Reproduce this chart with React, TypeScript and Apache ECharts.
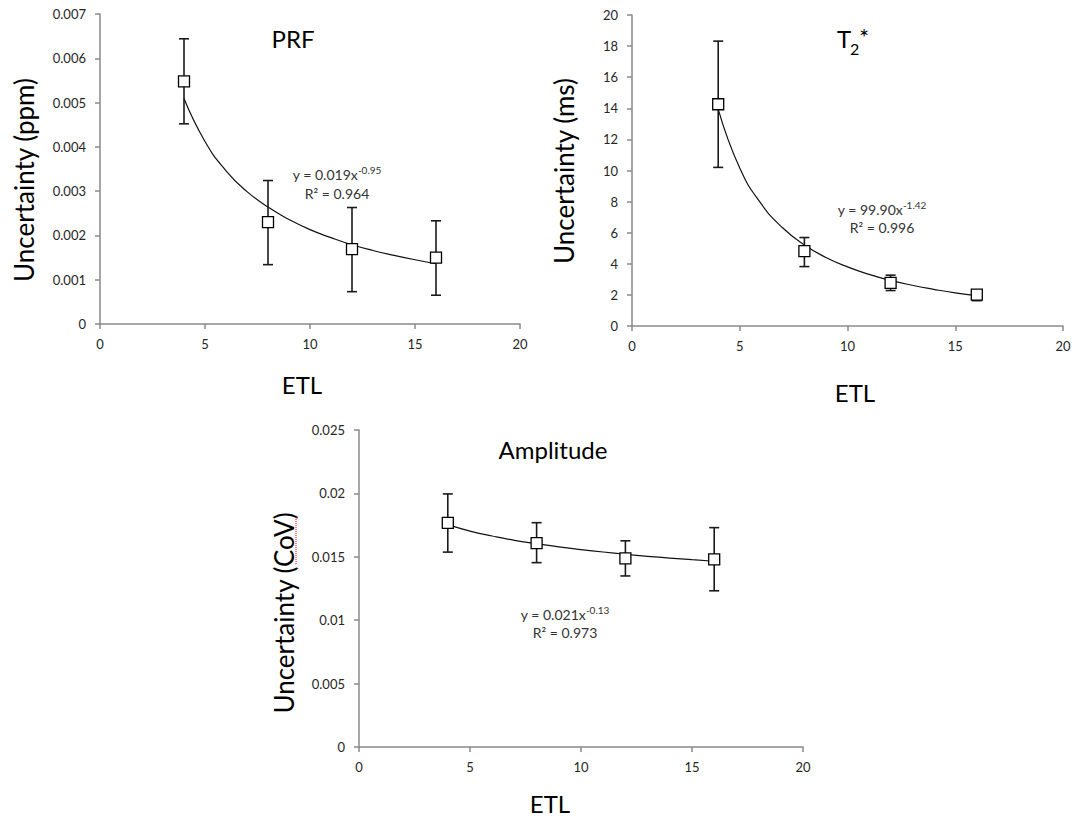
import React, { useEffect, useRef } from "react";
import * as echarts from "echarts";

// ---- data ----
const etl = [4, 8, 12, 16];

const prfMean = [0.00548, 0.0023, 0.00169, 0.0015];
const prfLow = [0.00452, 0.00134, 0.00073, 0.00065];
const prfHigh = [0.00644, 0.00324, 0.00263, 0.00233];

const t2Mean = [14.26, 4.81, 2.77, 2.02];
const t2Low = [10.2, 3.82, 2.28, 1.63];
const t2High = [18.32, 5.69, 3.27, 2.28];

const ampMean = [0.01767, 0.01608, 0.01487, 0.0148];
const ampLow = [0.01537, 0.01454, 0.01349, 0.01232];
const ampHigh = [0.01996, 0.01769, 0.01626, 0.0173];

// fitted (power-law) trend curves as drawn in the reference
const trendX = [4, 5, 6, 7, 8, 9, 10, 11, 12, 13, 14, 15, 16];
const prfTrend = [0.00509, 0.00412, 0.00346, 0.00299, 0.00264, 0.00236, 0.00213, 0.00195, 0.00179, 0.00166, 0.00155, 0.00145, 0.00136];
const t2Trend = [13.95, 10.16, 7.85, 6.3, 5.21, 4.41, 3.8, 3.32, 2.93, 2.62, 2.36, 2.13, 1.95];
const ampTrend = [0.01754, 0.01703, 0.01664, 0.0163, 0.01603, 0.01578, 0.01557, 0.01538, 0.0152, 0.01504, 0.0149, 0.01477, 0.01465];

const xTicks = { min: 0, max: 20, interval: 5 };
const prfTicks = { min: 0, max: 0.007, interval: 0.001 };
const t2Ticks = { min: 0, max: 20, interval: 2 };
const ampTicks = { min: 0, max: 0.025, interval: 0.005 };

const FONT = "Lato";
const AXIS_COLOR = "#8a8a8a";
const TEXT_COLOR = "#262626";

function zip(a: number[], b: number[]) {
  return a.map((v, i) => [v, b[i]]);
}

function errorData(lo: number[], hi: number[]) {
  return etl.map((x, i) => [x, lo[i], hi[i]]);
}

function renderErr(params: any, api: any) {
  const x = api.value(0);
  const lo = api.value(1);
  const hi = api.value(2);
  const pTop = api.coord([x, hi]);
  const pBot = api.coord([x, lo]);
  const w = 5;
  const style = { stroke: "#1a1a1a", lineWidth: 1.6 };
  return {
    type: "group",
    children: [
      { type: "line", shape: { x1: pTop[0], y1: pTop[1], x2: pBot[0], y2: pBot[1] }, style },
      { type: "line", shape: { x1: pTop[0] - w, y1: pTop[1], x2: pTop[0] + w, y2: pTop[1] }, style },
      { type: "line", shape: { x1: pBot[0] - w, y1: pBot[1], x2: pBot[0] + w, y2: pBot[1] }, style },
    ],
  };
}

function xAxis(gridIndex: number) {
  return {
    type: "value",
    gridIndex,
    ...xTicks,
    axisLine: { show: true, onZero: false, lineStyle: { color: AXIS_COLOR, width: 1.5 } },
    axisTick: { show: true, inside: false, length: 5, lineStyle: { color: AXIS_COLOR, width: 1.5 } },
    splitLine: { show: false },
    axisLabel: { color: TEXT_COLOR, fontFamily: FONT, fontSize: 13, margin: 13 },
  };
}

function yAxis(gridIndex: number, ticks: any) {
  return {
    type: "value",
    gridIndex,
    ...ticks,
    axisLine: { show: true, onZero: false, lineStyle: { color: AXIS_COLOR, width: 1.5 } },
    axisTick: { show: true, inside: false, length: 5, lineStyle: { color: AXIS_COLOR, width: 1.5 } },
    splitLine: { show: false },
    axisLabel: { color: TEXT_COLOR, fontFamily: FONT, fontSize: 13, margin: 14 },
  };
}

function seriesFor(idx: number, mean: number[], lo: number[], hi: number[], trend: number[]) {
  return [
    {
      type: "line",
      xAxisIndex: idx,
      yAxisIndex: idx,
      data: zip(trendX, trend),
      smooth: 0.5,
      showSymbol: false,
      symbol: "none",
      lineStyle: { color: "#111", width: 1.2 },
      z: 2,
    },
    {
      type: "custom",
      xAxisIndex: idx,
      yAxisIndex: idx,
      data: errorData(lo, hi),
      encode: { x: 0, y: [1, 2] },
      renderItem: renderErr,
      z: 3,
    },
    {
      type: "scatter",
      xAxisIndex: idx,
      yAxisIndex: idx,
      data: zip(etl, mean),
      symbol: "rect",
      symbolSize: 11,
      itemStyle: { color: "#ffffff", borderColor: "#000", borderWidth: 1.3, opacity: 1 },
      z: 4,
    },
  ];
}

function txt(x: number, y: number, text: string, fontSize: number, extra: any = {}) {
  return {
    type: "text",
    x,
    y,
    silent: true,
    style: {
      text,
      fontFamily: FONT,
      fontSize,
      fill: "#000",
      align: "center",
      verticalAlign: "middle",
      ...extra,
    },
  };
}

function eqText(x: number, y: number, main: string, sup: string) {
  return {
    type: "text",
    x,
    y,
    silent: true,
    style: {
      text: `{m|${main}}{s|${sup}}`,
      align: "center",
      verticalAlign: "middle",
      rich: {
        m: { fontFamily: FONT, fontSize: 14, fill: "#333", lineHeight: 17, verticalAlign: "bottom" },
        s: { fontFamily: FONT, fontSize: 10, fill: "#333", lineHeight: 10, verticalAlign: "top" },
      },
    },
  };
}

function yTitle(x: number, y: number, text: string) {
  return {
    type: "text",
    x,
    y,
    rotation: Math.PI / 2,
    silent: true,
    style: {
      text,
      fontFamily: FONT,
      fontSize: 26,
      fill: "#000",
      align: "center",
      verticalAlign: "middle",
    },
  };
}

export default function App() {
  const ref = useRef<HTMLDivElement>(null);

  useEffect(() => {
    if (!ref.current) return;
    const chart = echarts.init(ref.current, null, { renderer: "svg" });
    const option: any = {
      animation: false,
      backgroundColor: "#ffffff",
      grid: [
        { left: 100, top: 14, width: 420, height: 310 },
        { left: 632, top: 15, width: 431, height: 311 },
        { left: 359, top: 430, width: 444, height: 317 },
      ],
      xAxis: [xAxis(0), xAxis(1), xAxis(2)],
      yAxis: [yAxis(0, prfTicks), yAxis(1, t2Ticks), yAxis(2, ampTicks)],
      series: [
        ...seriesFor(0, prfMean, prfLow, prfHigh, prfTrend),
        ...seriesFor(1, t2Mean, t2Low, t2High, t2Trend),
        ...seriesFor(2, ampMean, ampLow, ampHigh, ampTrend),
      ],
      graphic: [
        // chart titles
        txt(293, 38, "PRF", 24),
        txt(837, 38, "T", 24, { align: "left" }),
        txt(850, 48, "2", 16, { align: "left" }),
        txt(859, 36, "*", 24, { align: "left" }),
        txt(553, 449, "Amplitude", 24),
        // equations
        eqText(337, 173, "y = 0.019x", "-0.95"),
        txt(337, 193, "R² = 0.964", 14, { fill: "#333" }),
        eqText(882, 208, "y = 99.90x", "-1.42"),
        txt(882, 227, "R² = 0.996", 14, { fill: "#333" }),
        eqText(565, 613, "y = 0.021x", "-0.13"),
        txt(565, 632, "R² = 0.973", 14, { fill: "#333" }),
        // axis titles
        txt(302, 384, "ETL", 24),
        txt(855, 392, "ETL", 24),
        txt(550, 803, "ETL", 24),
        yTitle(24, 180, "Uncertainty (ppm)"),
        yTitle(564, 171, "Uncertainty (ms)"),
        yTitle(284, 613, "Uncertainty (CoV)"),
        {
          type: "line",
          silent: true,
          shape: { x1: 296, y1: 517, x2: 296, y2: 565 },
          style: { stroke: "#ff0000", lineWidth: 1, lineDash: [1, 1] },
        },
      ],
    };
    chart.setOption(option);
    return () => chart.dispose();
  }, []);

  return (
    <div
      ref={ref}
      style={{ position: "fixed", left: 0, top: 0, width: 1075, height: 818, background: "#fff" }}
    />
  );
}
